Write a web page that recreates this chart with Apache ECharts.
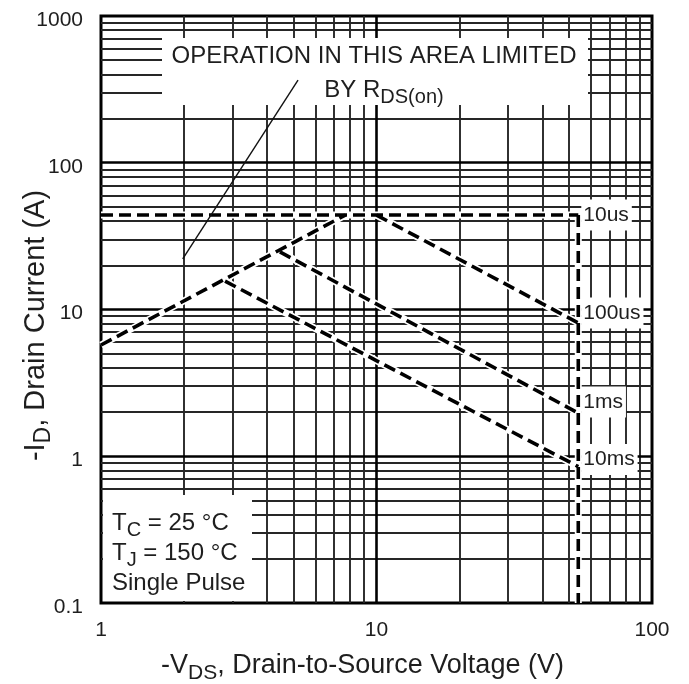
<!DOCTYPE html>
<html>
<head>
<meta charset="utf-8">
<script src="https://cdn.jsdelivr.net/npm/echarts@6/dist/echarts.min.js"></script>
<style>
  html, body { margin: 0; padding: 0; background: #fff; }
  #chart { width: 689px; height: 684px; }
</style>
</head>
<body>
<div id="chart"></div>
<script>
// Maximum safe operating area (single pulse), log-log scales
const vdsTicks = [1, 10, 100];
const idTicks = [0.1, 1, 10, 100, 1000];

// curve vertices, [-VDS (V), -ID (A)]
const rdsLimit = [[1, 5.73], [7.7, 44]];
const pulse10us = [[1, 44], [54, 44]];
const voltageLimit = [[54, 44], [54, 0.1]];
const pulse100us = [[10, 44], [54, 8.1]];
const pulse1ms = [[4.46, 24.7], [54, 1.97]];
const pulse10ms = [[2.82, 15.6], [54, 0.85]];
const rdsPointer = [[1.98, 22.1], [5.19, 366]];

const FONT = '"Liberation Sans", Arial, Helvetica, sans-serif';
const INK = '#1e1e1e';

// minor grid values 2..9 inside each decade, decade values between the ends
function minorValues(ticks) {
  const out = [];
  for (let i = 0; i < ticks.length - 1; i++) {
    for (let m = 2; m <= 9; m++) out.push(m * ticks[i]);
  }
  return out;
}
const xMinor = minorValues(vdsTicks);
const yMinor = minorValues(idTicks);
const xMajor = vdsTicks.slice(1, -1);
const yMajor = idTicks.slice(1, -1);
const xMin = vdsTicks[0], xMax = vdsTicks[vdsTicks.length - 1];
const yMin = idTicks[0], yMax = idTicks[idTicks.length - 1];

function gridLines(xs, ys) {
  const data = [];
  xs.forEach(v => data.push([{ coord: [v, yMin] }, { coord: [v, yMax] }]));
  ys.forEach(v => data.push([{ coord: [xMin, v] }, { coord: [xMax, v] }]));
  return data;
}

function gridSeries(name, data, color, width) {
  return {
    type: 'line', name, data: [], silent: true, z: 1, animation: false,
    markLine: {
      z: 1, silent: true, animation: false, symbol: ['none', 'none'],
      label: { show: false },
      lineStyle: { color, width, type: 'solid', opacity: 1 },
      emphasis: { disabled: true },
      data
    }
  };
}

function curve(name, data, labelText, dy) {
  const halo = {
    type: 'line', name: name + ' halo', data, symbol: 'none', silent: true, z: 4,
    animation: false,
    lineStyle: { color: '#fff', width: 7, type: 'solid', cap: 'butt' }
  };
  const dash = {
    type: 'line', name, data, symbol: 'none', silent: true, z: 6, animation: false,
    lineStyle: { color: '#000', width: 3.6, type: [12, 6], cap: 'butt' },
    endLabel: labelText ? {
      show: true, formatter: labelText, color: INK, fontFamily: FONT, fontSize: 21,
      backgroundColor: '#fff', padding: [5, 3, 5, 2], distance: 3, offset: [0, dy || 0]
    } : { show: false }
  };
  return [halo, dash];
}

const subRich = (big, small, drop) => ({
  n: { fontFamily: FONT, fontSize: big, color: INK },
  s: { fontFamily: FONT, fontSize: small, color: INK, padding: [drop, 0, 0, 0] }
});

const tickText = v => String(+(+v).toPrecision(3));

const chart = echarts.init(document.getElementById('chart'), null, { renderer: 'canvas' });

chart.setOption({
  backgroundColor: '#fff',
  animation: false,
  grid: {
    left: 101, right: 37, top: 16, bottom: 81,
    containLabel: false, outerBoundsMode: 'none',
    show: true, borderColor: '#000', borderWidth: 3, backgroundColor: 'transparent'
  },
  xAxis: {
    type: 'log', logBase: 10, min: xMin, max: xMax,
    axisLine: { show: false }, axisTick: { show: false }, splitLine: { show: false },
    axisLabel: {
      color: INK, fontFamily: FONT, fontSize: 21, margin: 17,
      formatter: tickText
    },
    name: '{n|-V}{s|DS}{n|, Drain-to-Source Voltage (V)}',
    nameLocation: 'middle', nameGap: 44, nameMoveOverlap: false,
    nameTextStyle: { rich: subRich(27, 21, 16), padding: [0, 28, 0, 0] }
  },
  yAxis: {
    type: 'log', logBase: 10, min: yMin, max: yMax,
    axisLine: { show: false }, axisTick: { show: false }, splitLine: { show: false },
    axisLabel: {
      color: INK, fontFamily: FONT, fontSize: 21, margin: 18,
      formatter: v => '{v|' + tickText(v) + '}',
      rich: { v: { fontFamily: FONT, fontSize: 21, color: INK, padding: [8, 0, 0, 0] } }
    },
    name: '{n|-I}{s|D}{n|, Drain Current (A)}',
    nameLocation: 'middle', nameGap: 46, nameRotate: 90, nameMoveOverlap: false,
    nameTextStyle: { rich: subRich(29, 23, 16), padding: [0, 32, 0, 0] }
  },
  graphic: [
    { type: 'rect', z: 3, silent: true, shape: { x: 162, y: 38, width: 426, height: 67 }, style: { fill: '#fff' } },
    { type: 'rect', z: 3, silent: true, shape: { x: 103, y: 495, width: 149, height: 106 }, style: { fill: '#fff' } },
    {
      type: 'text', z: 8, silent: true, x: 374, y: 56,
      style: { text: 'OPERATION IN THIS AREA LIMITED', fontFamily: FONT, fontSize: 24, fill: INK, align: 'center', verticalAlign: 'middle' }
    },
    {
      type: 'text', z: 8, silent: true, x: 384, y: 90,
      style: { text: '{n|BY R}{s|DS(on)}', rich: subRich(24, 20, 14), fill: INK, align: 'center', verticalAlign: 'middle' }
    },
    {
      type: 'text', z: 8, silent: true, x: 112, y: 523,
      style: { text: '{n|T}{s|C}{n| = 25 °C}', rich: subRich(24, 20, 14), fill: INK, align: 'left', verticalAlign: 'middle' }
    },
    {
      type: 'text', z: 8, silent: true, x: 112, y: 553,
      style: { text: '{n|T}{s|J}{n| = 150 °C}', rich: subRich(24, 20, 14), fill: INK, align: 'left', verticalAlign: 'middle' }
    },
    {
      type: 'text', z: 8, silent: true, x: 112, y: 583,
      style: { text: 'Single Pulse', fontFamily: FONT, fontSize: 24, fill: INK, align: 'left', verticalAlign: 'middle' }
    }
  ],
  series: [
    gridSeries('minor grid', gridLines(xMinor, yMinor), '#262626', 1.9),
    gridSeries('decade grid', gridLines(xMajor, yMajor), '#000', 2.6),
    ...curve('RDS(on) limit', rdsLimit),
    ...curve('10us', pulse10us, '10us', 0),
    ...curve('VDS limit', voltageLimit),
    ...curve('100us', pulse100us, '100us', -10),
    ...curve('1ms', pulse1ms, '1ms', -11),
    ...curve('10ms', pulse10ms, '10ms', -7),
    {
      type: 'line', name: 'pointer', data: rdsPointer, symbol: 'none', silent: true, z: 7,
      animation: false, lineStyle: { color: '#111', width: 1.4 }
    }
  ]
});
</script>
</body>
</html>
